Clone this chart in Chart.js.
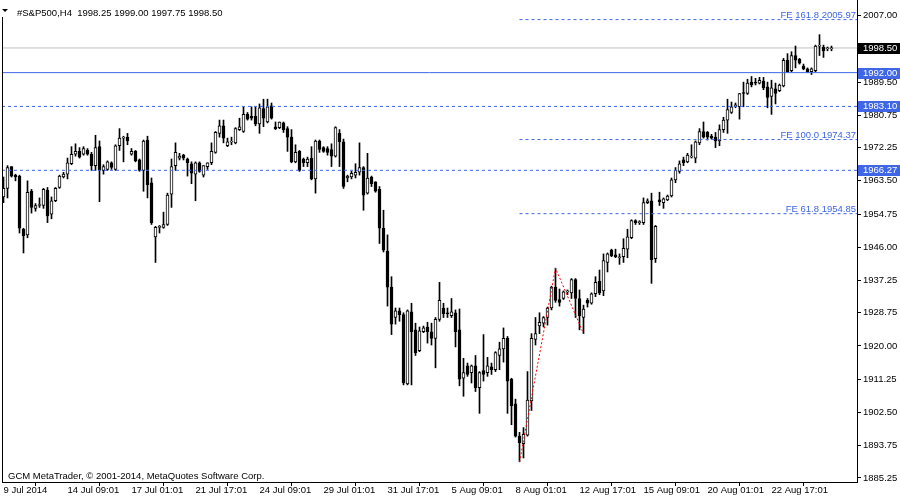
<!DOCTYPE html>
<html><head><meta charset="utf-8">
<script src="https://cdn.jsdelivr.net/npm/chart.js@4.4.1/dist/chart.umd.min.js"></script>
<style>html,body{margin:0;padding:0;background:#fff;overflow:hidden}canvas{display:block}</style>
</head><body>
<canvas id="c" width="900" height="500"></canvas>
<script>
const symbolTitle = '#S&P500,H4  1998.25 1999.00 1997.75 1998.50';
const copyright = 'GCM MetaTrader, \u00A9 2001-2014, MetaQuotes Software Corp.';

const open = [
1959.25,1961.5,1967.25,1965.0,1964.75,1950.75,1949.25,1960.75,1956.25,1957.0,
1957.0,1961.0,1954.75,1958.25,1961.75,1964.5,1965.25,1968.0,1970.5,1971.25,
1970.5,1971.5,1970.5,1967.5,1972.5,1966.25,1966.5,1968.25,1966.5,1972.75,
1974.75,1975.0,1970.5,1971.25,1969.0,1966.25,1974.25,1963.0,1948.75,1951.25,
1951.25,1952.0,1960.0,1967.5,1969.5,1970.25,1969.25,1968.0,1965.25,1968.25,
1965.0,1967.25,1968.25,1971.0,1976.0,1978.0,1972.75,1973.75,1973.5,1977.0,
1976.5,1981.0,1980.5,1980.5,1978.5,1982.5,1979.0,1983.25,1977.75,1977.5,
1978.75,1977.25,1975.0,1968.5,1971.25,1969.25,1968.25,1969.5,1964.0,1974.0,
1972.25,1972.0,1971.75,1970.0,1976.0,1973.75,1964.25,1964.5,1965.0,1965.75,
1967.0,1960.25,1964.5,1963.25,1961.25,1951.0,1945.0,1935.5,1927.5,1929.25,
1928.25,1910.0,1929.0,1924.25,1918.75,1923.75,1925.0,1923.75,1922.0,1927.0,
1930.0,1928.75,1928.0,1928.75,1924.25,1911.5,1914.75,1913.0,1914.75,1909.0,
1913.5,1913.0,1914.5,1913.75,1917.5,1919.25,1922.0,1911.25,1904.75,1896.25,
1894.25,1896.5,1905.5,1921.75,1925.25,1926.0,1927.5,1930.0,1935.5,1932.25,
1932.5,1934.25,1934.0,1937.5,1932.5,1927.5,1932.0,1931.25,1933.75,1937.0,
1934.5,1942.0,1945.25,1944.0,1943.25,1943.5,1945.5,1948.5,1953.0,1952.5,
1952.5,1957.75,1958.25,1943.0,1958.5,1957.75,1958.5,1959.5,1963.75,1966.0,
1969.0,1968.5,1969.75,1969.5,1973.5,1976.5,1976.25,1975.25,1975.0,1974.0,
1977.0,1979.5,1981.5,1983.0,1983.0,1986.75,1986.5,1989.5,1989.5,1989.25,
1989.75,1988.25,1985.75,1987.75,1987.25,1988.5,1995.25,1992.5,1996.5,1995.5,
1993.75,1993.0,1992.25,1992.5,1999.0,1998.75,1998.25,1998.25
];
const high = [
1964.5,1967.5,1967.25,1965.25,1965.0,1951.0,1963.5,1961.25,1957.5,1959.0,
1961.5,1961.75,1959.25,1961.75,1965.0,1965.75,1969.5,1972.5,1973.25,1972.25,
1972.5,1972.0,1971.0,1975.5,1974.0,1967.75,1968.75,1968.5,1973.0,1977.25,
1975.25,1976.0,1972.0,1971.5,1969.25,1974.25,1975.25,1964.25,1951.5,1951.75,
1955.25,1960.25,1969.25,1973.5,1970.75,1970.5,1969.5,1968.5,1968.5,1968.5,
1967.5,1968.25,1973.5,1976.5,1979.5,1979.5,1974.75,1975.0,1977.5,1980.0,
1983.0,1981.5,1983.0,1983.0,1983.75,1985.0,1985.0,1984.0,1979.0,1979.0,
1979.0,1977.75,1977.0,1973.0,1971.5,1969.5,1969.75,1972.5,1974.25,1974.25,
1972.5,1972.5,1973.25,1977.75,1977.0,1974.5,1965.0,1966.0,1968.0,1973.5,
1967.25,1970.75,1964.75,1963.25,1962.0,1955.75,1949.25,1938.25,1930.0,1930.0,
1928.75,1929.5,1931.25,1926.0,1925.0,1925.25,1926.25,1926.0,1927.5,1936.75,
1931.25,1930.0,1932.5,1929.5,1929.75,1916.75,1915.5,1915.0,1917.5,1913.25,
1923.0,1917.0,1915.5,1918.5,1921.0,1924.75,1922.5,1911.5,1906.0,1897.25,
1898.5,1913.25,1923.25,1927.5,1928.75,1927.75,1930.25,1935.75,1940.5,1935.0,
1934.5,1934.75,1937.75,1937.75,1934.75,1930.75,1932.5,1934.0,1938.25,1940.0,
1944.25,1944.5,1945.5,1945.5,1944.25,1948.25,1950.75,1953.25,1953.25,1953.0,
1959.0,1958.75,1960.25,1951.75,1960.5,1959.0,1959.75,1964.25,1967.0,1968.75,
1969.75,1970.75,1973.0,1974.0,1977.25,1979.0,1976.5,1975.75,1976.25,1978.25,
1980.25,1985.0,1984.25,1984.0,1986.5,1989.5,1990.25,1991.0,1990.5,1990.75,
1990.75,1989.5,1990.0,1989.25,1989.0,1995.75,1997.0,1997.5,1999.0,1995.75,
1994.25,1993.25,1993.25,1999.25,2002.0,1999.25,1998.75,1999.0
];
const low = [
1957.75,1959.0,1964.5,1963.5,1949.75,1944.5,1948.5,1955.0,1955.5,1956.5,
1956.25,1952.5,1953.5,1958.0,1961.5,1964.25,1964.0,1967.75,1970.0,1969.5,
1970.25,1970.25,1966.25,1966.25,1958.0,1965.25,1966.25,1966.5,1966.25,1971.5,
1968.5,1973.0,1970.25,1968.5,1966.0,1960.75,1959.0,1952.0,1942.0,1949.75,
1951.0,1951.75,1956.5,1966.25,1969.0,1969.0,1964.75,1962.75,1958.25,1965.75,
1964.5,1966.5,1967.75,1970.75,1975.0,1973.5,1972.5,1973.0,1973.25,1976.75,
1976.25,1979.5,1979.5,1978.0,1976.0,1977.75,1978.75,1979.75,1977.0,1977.25,
1976.25,1971.25,1968.25,1968.25,1966.0,1967.25,1967.25,1963.75,1960.25,1971.0,
1971.0,1970.25,1967.25,1969.75,1967.25,1961.5,1963.25,1964.0,1964.25,1965.0,
1955.75,1960.0,1962.0,1960.5,1947.0,1944.75,1930.5,1923.0,1925.75,1926.5,
1909.75,1909.75,1909.75,1917.5,1918.5,1923.5,1920.75,1920.25,1914.25,1926.5,
1927.5,1927.5,1927.5,1919.75,1909.5,1906.75,1912.0,1910.25,1908.0,1902.25,
1910.75,1912.0,1912.5,1913.25,1913.75,1915.75,1902.25,1899.25,1896.0,1889.5,
1890.5,1896.25,1903.0,1920.25,1923.25,1925.0,1925.5,1929.5,1931.5,1930.5,
1932.25,1933.5,1932.5,1927.5,1924.25,1923.25,1930.25,1931.0,1933.0,1933.5,
1933.25,1939.5,1943.5,1943.25,1941.5,1942.0,1943.25,1948.25,1952.0,1952.0,
1952.0,1957.5,1936.5,1942.0,1957.0,1956.25,1958.25,1959.25,1963.0,1965.5,
1967.5,1968.25,1969.5,1968.25,1973.0,1974.75,1974.25,1974.5,1972.25,1972.75,
1976.25,1976.0,1981.25,1982.75,1979.75,1983.0,1986.25,1988.25,1988.75,1989.0,
1987.5,1982.75,1981.0,1983.75,1987.0,1988.25,1992.0,1992.25,1993.25,1994.25,
1992.75,1992.0,1991.5,1992.25,1996.5,1996.0,1997.75,1997.75
];
const close = [
1961.5,1967.0,1964.75,1964.5,1951.0,1949.0,1960.5,1956.5,1957.0,1957.25,
1961.25,1954.25,1958.25,1961.5,1964.75,1965.25,1968.25,1970.5,1971.25,1969.75,
1972.0,1970.5,1967.5,1972.25,1966.25,1967.25,1968.5,1967.0,1972.75,1974.75,
1975.0,1974.0,1971.25,1968.75,1966.25,1974.0,1962.5,1952.5,1951.25,1951.5,
1952.0,1959.75,1967.25,1971.0,1970.0,1969.5,1968.25,1965.5,1968.25,1966.0,
1967.5,1968.25,1971.25,1976.25,1978.0,1974.75,1973.75,1974.0,1977.25,1977.75,
1981.0,1979.75,1980.0,1978.5,1982.75,1980.0,1983.0,1980.0,1977.25,1979.0,
1977.0,1975.0,1968.5,1971.0,1966.25,1968.25,1969.25,1964.0,1974.0,1971.75,
1971.25,1971.0,1970.0,1977.5,1973.75,1962.0,1964.75,1965.5,1965.75,1967.0,
1959.75,1964.25,1962.75,1960.75,1951.0,1945.25,1935.5,1925.75,1929.25,1928.25,
1910.25,1929.25,1923.75,1918.25,1924.0,1924.75,1923.75,1922.0,1927.0,1932.0,
1928.5,1928.5,1929.0,1923.75,1911.25,1913.0,1912.5,1914.75,1909.0,1913.0,
1912.5,1914.75,1913.75,1918.25,1919.25,1922.0,1910.75,1904.25,1896.25,1894.5,
1896.75,1905.75,1922.0,1923.25,1926.25,1927.5,1930.0,1935.5,1932.0,1931.5,
1934.25,1934.5,1937.5,1932.5,1928.0,1929.75,1931.25,1933.75,1936.75,1934.0,
1942.5,1944.25,1943.75,1943.5,1943.5,1945.75,1948.75,1953.0,1952.5,1952.75,
1957.75,1958.25,1942.75,1951.5,1958.0,1958.75,1959.5,1963.75,1966.25,1968.0,
1968.25,1970.25,1970.0,1973.75,1976.5,1975.0,1975.0,1974.75,1974.0,1977.0,
1979.5,1982.25,1983.0,1983.5,1986.5,1986.5,1989.25,1988.75,1989.25,1990.0,
1988.0,1985.5,1988.0,1986.5,1988.75,1995.25,1992.25,1996.5,1995.25,1994.5,
1993.0,1992.25,1993.0,1999.0,1999.25,1997.75,1998.5,1998.5
];

const timeLabels = ['9 Jul 2014','14 Jul 09:01','17 Jul 01:01','21 Jul 17:01','24 Jul 09:01',
  '29 Jul 01:01','31 Jul 17:01','5 Aug 09:01','8 Aug 01:01','12 Aug 17:01','15 Aug 09:01',
  '20 Aug 01:01','22 Aug 17:01'];
const barsPerLabel = 16;
const priceTicks = [2007.00,1989.50,1980.75,1972.25,1963.50,1954.75,1946.00,1937.25,
  1928.75,1920.00,1911.25,1902.50,1893.75,1885.25];

const bidPrice = 1998.50;
const lineLevels = [1992.00, 1983.10, 1966.27];
const lineDashed = [false, true, true];
const feNames = ['FE 161.8','FE 100.0','FE 61.8'];
const feLevels = [2005.97, 1974.37, 1954.85];
const fePivotBars = [129, 138, 145];
const fePivotPrices = [1889.40, 1940.50, 1923.27];

const X_MIN = -0.375, X_MAX = 213.375, Y_MIN = 1884.17, Y_MAX = 2011.13;
const BLUE = '#3f66e6';
const FONT = '"Liberation Sans", Arial, sans-serif';
const FSIZE = 9.5;

const idx = open.map((_, i) => i);
const wickData = idx.map(i => ({x: i, y: [low[i], high[i]]}));
const bodyData = idx.map(i => ({x: i, y: [open[i], close[i]]}));
const bodyColors = idx.map(i => close[i] > open[i] ? '#ffffff' : '#000000');

const lineDs = (data, color, dash, order) => ({
  type: 'line', data, borderColor: color, borderWidth: 1, borderDash: dash,
  pointRadius: 0, tension: 0, fill: false, order
});

const datasets = [
  {type: 'bar', data: wickData, backgroundColor: '#000', borderWidth: 0,
   barThickness: 1, grouped: false, order: 3},
  {type: 'bar', data: bodyData, backgroundColor: bodyColors, borderColor: '#000',
   borderWidth: 1, borderSkipped: false, barThickness: 3, grouped: false, order: 2},
  lineDs([{x: X_MIN, y: bidPrice}, {x: X_MAX, y: bidPrice}], '#c0c0c0', [], 4),
  ...lineLevels.map((v, k) => lineDs([{x: X_MIN, y: v}, {x: X_MAX, y: v}], BLUE, lineDashed[k] ? [3, 3] : [], 0)),
  ...feLevels.map(v => lineDs([{x: fePivotBars[0], y: v}, {x: X_MAX, y: v}], BLUE, [3, 3], 0)),
  lineDs(fePivotBars.map((b, k) => ({x: b, y: fePivotPrices[k]})), '#ff0000', [2, 2], 0)
];

const overlay = {
  id: 'overlay',
  afterDraw(chart) {
    const {ctx, chartArea: ca, scales: {y}} = chart;
    ctx.save();
    ctx.strokeStyle = '#000'; ctx.lineWidth = 1;
    ctx.beginPath(); ctx.moveTo(ca.left + 0.5, 17); ctx.lineTo(ca.left + 0.5, ca.bottom); ctx.stroke();
    ctx.fillStyle = '#000';
    ctx.beginPath(); ctx.moveTo(2, 9); ctx.lineTo(8, 9); ctx.lineTo(5, 12); ctx.closePath(); ctx.fill();
    ctx.font = FSIZE + 'px ' + FONT; ctx.textBaseline = 'alphabetic'; ctx.textAlign = 'left';
    ctx.fillText(symbolTitle, 17, 15.5);
    ctx.fillText(copyright, 8, 479);
    ctx.fillStyle = BLUE; ctx.textAlign = 'right';
    feLevels.forEach((v, k) => {
      ctx.fillText(feNames[k] + ' ' + v.toFixed(2), ca.right - 1, y.getPixelForValue(v) - 1.5);
    });
    ctx.textAlign = 'left'; ctx.textBaseline = 'middle';
    const boxes = [{v: bidPrice, bg: '#000'}, ...lineLevels.map(v => ({v, bg: BLUE}))];
    boxes.forEach(b => {
      const py = Math.round(y.getPixelForValue(b.v));
      ctx.fillStyle = b.bg;
      ctx.fillRect(ca.right + 1, py - 5, chart.width - ca.right - 1, 11);
      ctx.fillStyle = '#fff';
      ctx.fillText(b.v.toFixed(2), ca.right + 6, py + 0.5);
    });
    ctx.restore();
  }
};

new Chart(document.getElementById('c'), {
  type: 'bar',
  data: {datasets},
  options: {
    responsive: false, animation: false, devicePixelRatio: 1,
    layout: {padding: {left: 2, right: 0, top: 0, bottom: 0}},
    plugins: {legend: {display: false}, tooltip: {enabled: false}},
    scales: {
      x: {
        type: 'linear', min: X_MIN, max: X_MAX, offset: false, position: 'bottom',
        afterBuildTicks: s => { s.ticks = timeLabels.map((_, k) => ({value: k * barsPerLabel})); },
        afterFit: s => { s.height = 18; s.paddingLeft = 0; s.paddingRight = 0; },
        grid: {display: true, drawOnChartArea: false, drawTicks: true, tickLength: 4, color: '#000'},
        border: {display: true, color: '#000'},
        ticks: {autoSkip: false, maxRotation: 0, minRotation: 0, align: 'start', padding: 0,
          color: '#000', font: {family: FONT, size: FSIZE, lineHeight: 1},
          callback: v => timeLabels[Math.round(v / barsPerLabel)] ?? ''}
      },
      y: {
        type: 'linear', position: 'right', min: Y_MIN, max: Y_MAX,
        afterBuildTicks: s => { s.ticks = priceTicks.map(v => ({value: v})); },
        afterFit: s => { s.width = 43; s.paddingTop = 0; s.paddingBottom = 0; },
        grid: {display: true, drawOnChartArea: false, drawTicks: true, tickLength: 4, color: '#000'},
        border: {display: true, color: '#000'},
        ticks: {padding: 2, color: '#000', font: {family: FONT, size: FSIZE, lineHeight: 1},
          callback: v => v.toFixed(2)}
      }
    }
  },
  plugins: [overlay]
});
</script>
</body></html>
